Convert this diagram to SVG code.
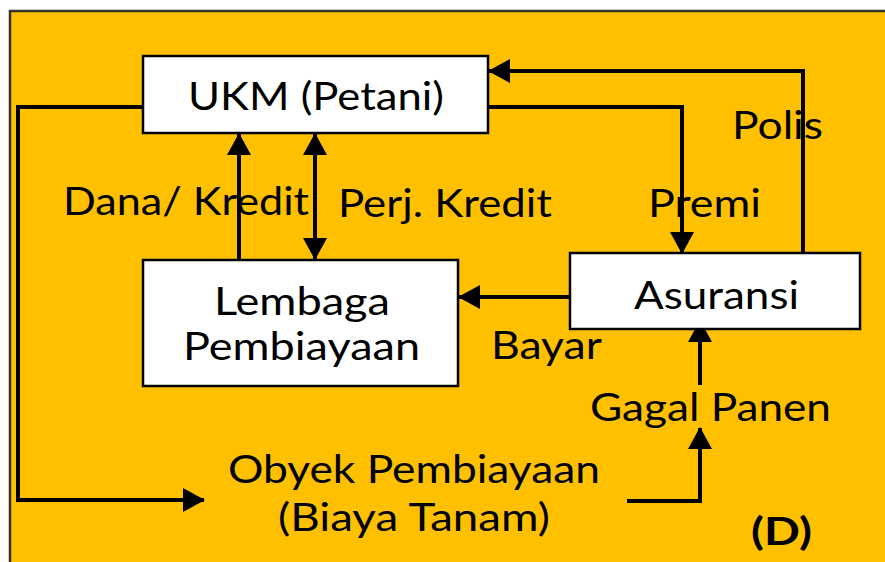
<svg xmlns="http://www.w3.org/2000/svg" width="885" height="562" viewBox="0 0 885 562">
<defs>
<style>
.box{fill:#fff;stroke:#000;stroke-width:2.5}
.t{font-family:Lato,"Liberation Sans",sans-serif;font-size:38px;fill:#000}
.b{font-weight:bold}
.c{fill:none;stroke:#000;stroke-width:4}
</style>
<marker id="ah" viewBox="0 0 22 24" refX="21" refY="12" markerWidth="22" markerHeight="24" markerUnits="userSpaceOnUse" orient="auto-start-reverse">
<path d="M0,0 L22,12 L0,24 z" fill="#000"/>
</marker>
</defs>
<rect x="0" y="0" width="885" height="562" fill="#fff"/>
<rect x="10" y="11" width="880" height="560" fill="#FFC000" stroke="#333" stroke-width="2.5"/>
<g id="connectors">
<path class="c" d="M239,260 L239,134" marker-end="url(#ah)"/>
<path class="c" d="M315,259 L315,134" marker-start="url(#ah)" marker-end="url(#ah)"/>
<path class="c" d="M488,107 L682,107 L682,253" marker-end="url(#ah)"/>
<path class="c" d="M803,253 L803,71 L489,71" marker-end="url(#ah)"/>
<path class="c" d="M570,297 L459,297" marker-end="url(#ah)"/>
<path class="c" d="M143,107 L18,107 L18,500 L204,500" marker-end="url(#ah)"/>
<path class="c" d="M627,501 L700,501 L700,428" marker-end="url(#ah)"/>
<path class="c" d="M700,385 L700,321" marker-end="url(#ah)"/>
</g>
<g id="ukm">
<rect class="box" x="143" y="56" width="345" height="77"/>
<text class="t" x="188" y="110" textLength="256" lengthAdjust="spacingAndGlyphs">UKM (Petani)</text>
</g>
<g id="lembaga">
<rect class="box" x="143" y="260" width="315" height="126"/>
<text class="t" x="214" y="315" textLength="176" lengthAdjust="spacingAndGlyphs">Lembaga</text>
<text class="t" x="183" y="360" textLength="237" lengthAdjust="spacingAndGlyphs">Pembiayaan</text>
</g>
<g id="asuransi">
<rect class="box" x="570" y="253" width="290" height="76"/>
<text class="t" x="634" y="309" textLength="165" lengthAdjust="spacingAndGlyphs">Asuransi</text>
</g>
<g id="obyek">
<text class="t" x="228" y="483" textLength="372" lengthAdjust="spacingAndGlyphs">Obyek Pembiayaan</text>
<text class="t" x="278" y="531" textLength="272" lengthAdjust="spacingAndGlyphs">(Biaya Tanam)</text>
</g>
<g id="labels">
<text class="t" x="63" y="215" textLength="246" lengthAdjust="spacingAndGlyphs">Dana/ Kredit</text>
<text class="t" x="338" y="217" textLength="214" lengthAdjust="spacingAndGlyphs">Perj. Kredit</text>
<text class="t" x="648" y="217" textLength="113" lengthAdjust="spacingAndGlyphs">Premi</text>
<text class="t" x="732" y="139" textLength="91" lengthAdjust="spacingAndGlyphs">Polis</text>
<text class="t" x="491" y="359" textLength="111" lengthAdjust="spacingAndGlyphs">Bayar</text>
<text class="t" x="590" y="421" textLength="241" lengthAdjust="spacingAndGlyphs">Gagal Panen</text>
<text class="t b" x="751" y="545" textLength="61" lengthAdjust="spacingAndGlyphs">(D)</text>
</g>
</svg>
